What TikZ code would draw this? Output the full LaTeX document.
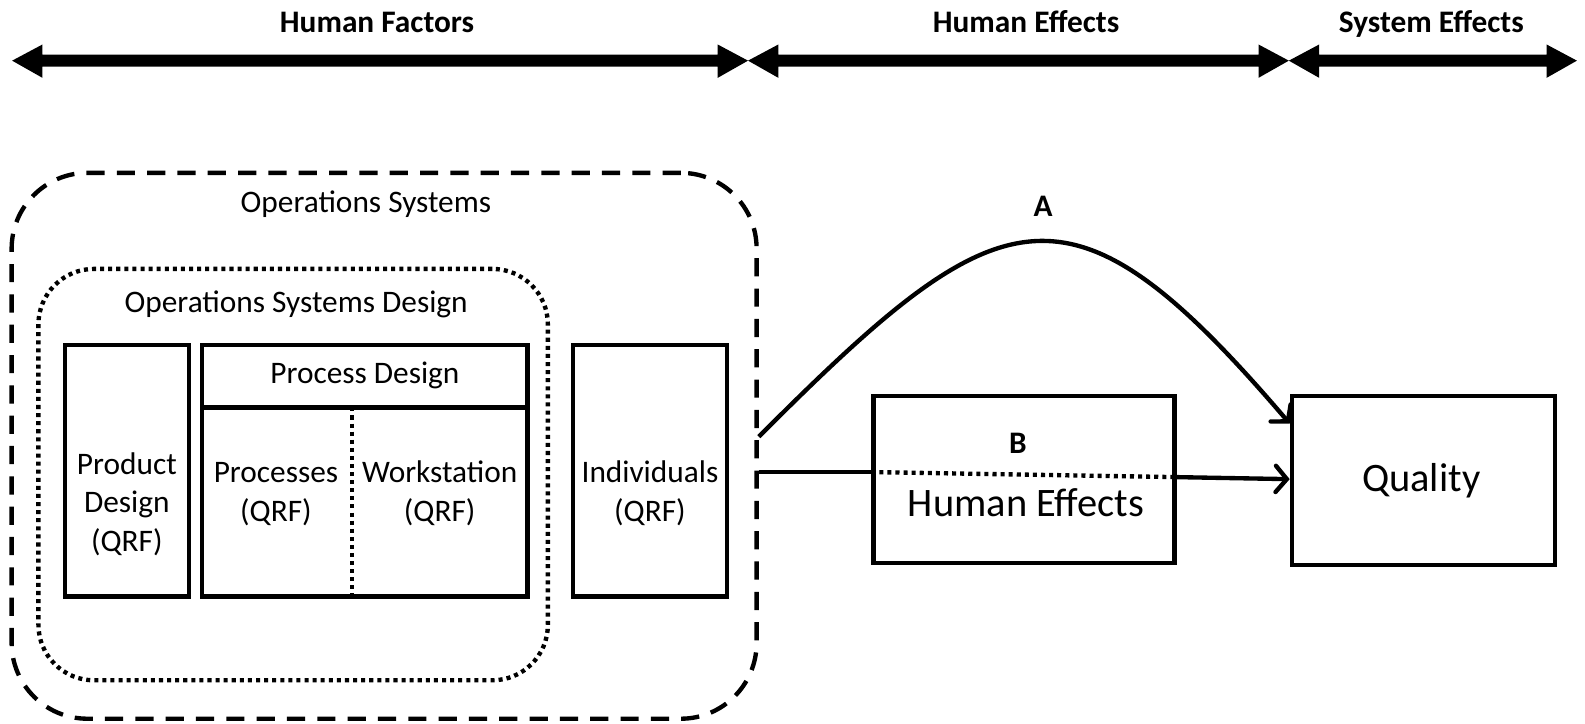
\documentclass[tikz,border=0pt]{standalone}
\usepackage{fontspec}
\setmainfont{Carlito}
\usetikzlibrary{arrows.meta}
\begin{document}
\begin{tikzpicture}[x=1pt,y=-1pt,
  box/.style={draw,line width=4.3pt,minimum width=#1,inner sep=0pt},
  txt/.style={anchor=base,inner sep=0pt,font=\fontsize{31}{38}\selectfont},
  btxt/.style={anchor=base,inner sep=0pt,font=\fontsize{31}{38}\selectfont\bfseries},
  bigtxt/.style={anchor=base,inner sep=0pt,font=\fontsize{40}{48}\selectfont},
  dashline/.style={line width=4.3pt,dash pattern=on 18pt off 12pt},
  dotline/.style={line width=4.3pt,dash pattern=on 4pt off 4pt},
  conn/.style={line width=4.3pt},
  arr/.style={line width=4.3pt,-{Straight Barb[length=11pt,width=26pt,line cap=round]}},
  bigarrow/.style={fill=black}
]
\useasboundingbox (0,0) rectangle (1568,716);

% top double arrows
\fill[bigarrow] (12,60) -- (42,44) -- (42,54) -- (710,54) -- (710,44) -- (740,60) -- (710,77) -- (710,66) -- (42,66) -- (42,77) -- cycle;
\fill[bigarrow] (740,60) -- (770,44) -- (770,54) -- (1245,54) -- (1245,44) -- (1275,60) -- (1245,77) -- (1245,66) -- (770,66) -- (770,77) -- cycle;
\fill[bigarrow] (1275,60) -- (1305,44) -- (1305,54) -- (1530,54) -- (1530,44) -- (1560,60) -- (1530,77) -- (1530,66) -- (1305,66) -- (1305,77) -- cycle;
\node[btxt] (lhf) at (373,32) {Human Factors};
\node[btxt] (lhe) at (1015,32) {Human Effects};
\node[btxt] (lse) at (1416,32) {System Effects};

% outer and inner regions
\node[draw,dashline,rounded corners=75pt,minimum width=737pt,minimum height=540pt,inner sep=0pt] (outer) at (380,441) {};
\node[txt] (los) at (362,210) {Operations Systems};
\node[draw,dotline,rounded corners=55pt,minimum width=504pt,minimum height=407pt,inner sep=0pt] (inner) at (290,469.5) {};
\node[txt] (losd) at (293,309) {Operations Systems Design};

% boxes
\node[box=123pt,minimum height=249pt] (prod) at (125.5,465.5) {};
\node[txt] at (125.5,469) {Product};
\node[txt] at (125.5,507) {Design};
\node[txt] at (125.5,546) {(QRF)};

\node[box=322pt,minimum height=62pt] (phead) at (361,372) {};
\node[txt] at (361,379) {Process Design};
\node[box=322pt,minimum height=187pt] (plow) at (361,496.5) {};
\coordinate (d1) at (348,403);
\coordinate (d2) at (348,590);
\draw[dotline] (d1) -- (d2);
\node[txt] at (273,477) {Processes};
\node[txt] at (273,516) {(QRF)};
\node[txt] at (435,477) {Workstation};
\node[txt] at (435,516) {(QRF)};

\node[box=152pt,minimum height=249pt] (ind) at (643,465.5) {};
\node[txt] at (643,477) {Individuals};
\node[txt] at (643,516) {(QRF)};

\node[box=298pt,minimum height=165pt] (he) at (1013,474.5) {};
\node[bigtxt] at (1015,511) {Human Effects};
\node[box=260pt,minimum height=167pt] (q) at (1408,475.5) {};
\node[bigtxt] at (1406,486) {Quality};

% connectors
\draw[arr] ([yshift=9pt]outer.east) .. controls (992,190) and (1058,164) .. ([yshift=56.5pt]q.west);
\node[btxt] (la) at (1032,214) {A};
\draw[conn] ([yshift=-26pt]outer.east) -- ([yshift=7.5pt]he.west);
\draw[dotline] ([yshift=7.5pt]he.west) -- ([yshift=2.5pt]he.east);
\draw[arr] ([yshift=2.5pt]he.east) -- ([yshift=1.5pt]q.west);
\node[btxt] (lb) at (1007,449) {B};
\end{tikzpicture}
\end{document}
